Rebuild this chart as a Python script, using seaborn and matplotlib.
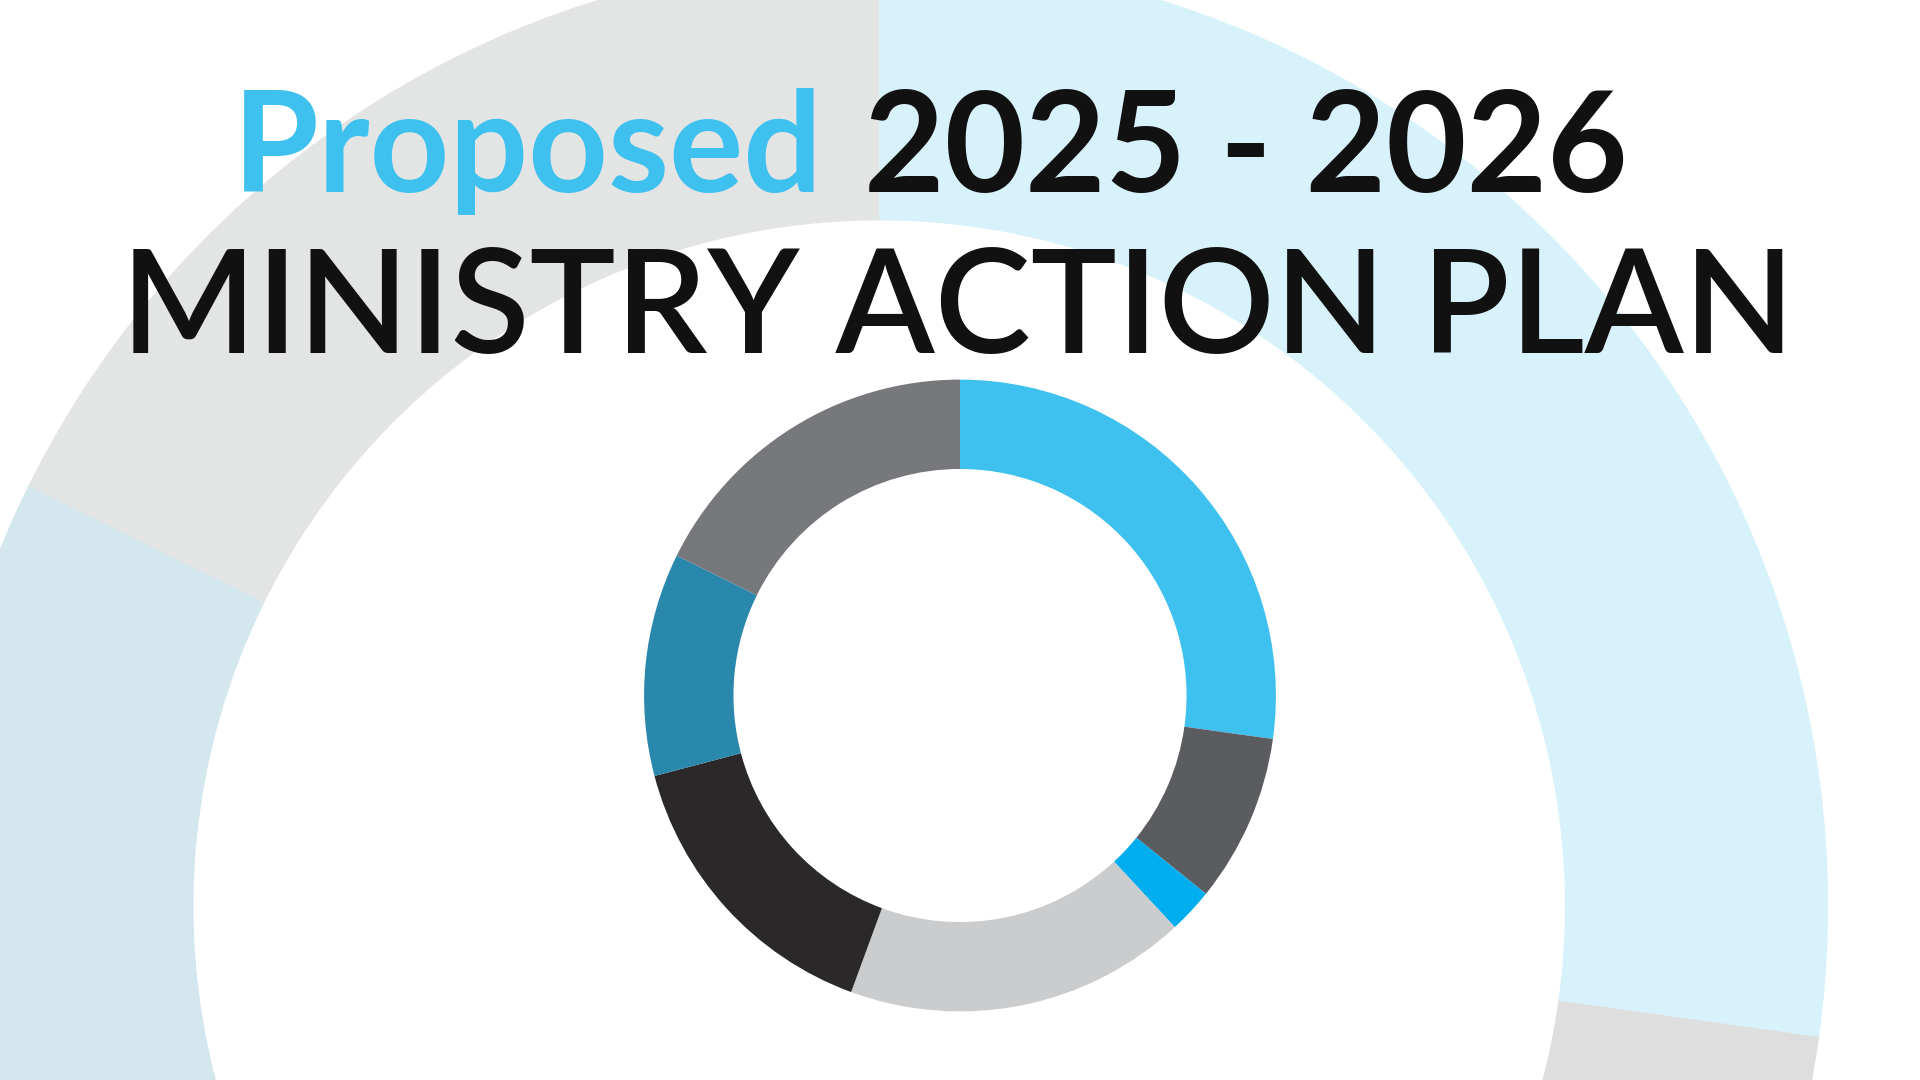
import matplotlib
matplotlib.use("Agg")
import matplotlib.pyplot as plt
import seaborn as sns

sns.set_theme(style="white")

categories = ["A", "B", "C", "D", "E", "F", "G"]
shares = [27.2, 8.6, 2.3, 17.5, 15.3, 11.4, 17.7]
colors = ["#3EC1EE", "#5b5c5f", "#00AEEF", "#cbcccd", "#2a2829", "#2a88ad", "#77787b"]
title_word = "Proposed"
title_years = "2025 - 2026"
subtitle = "MINISTRY ACTION PLAN"

fig = plt.figure(figsize=(19.2, 10.8), dpi=100)
ax = fig.add_axes([0, 0, 1, 1])
ax.set_xlim(0, 1568)
ax.set_ylim(0, 882)
ax.set_aspect("equal")
ax.axis("off")

# faded large background donut
ax.pie(shares, colors=colors, startangle=90, counterclock=False,
       center=(718, 142), radius=775,
       wedgeprops=dict(width=215, alpha=0.2, linewidth=0), frame=True)
# main donut
ax.pie(shares, colors=colors, startangle=90, counterclock=False,
       center=(784, 314), radius=258,
       wedgeprops=dict(width=73, linewidth=0), frame=True)
ax.set_xlim(0, 1568)
ax.set_ylim(0, 882)
ax.axis("off")

font = "Lato"
ax.text(672, 725, title_word, color="#3EC1EE", fontsize=100, fontweight="bold",
        family=font, ha="right", va="baseline")
ax.text(706, 725, title_years, color="#111111", fontsize=100, fontweight="bold",
        family=font, ha="left", va="baseline")
ax.text(782, 594, subtitle, color="#111111", fontsize=104, fontweight="semibold",
        family=font, ha="center", va="baseline")

fig.savefig("out.png", dpi=100, facecolor="white")
